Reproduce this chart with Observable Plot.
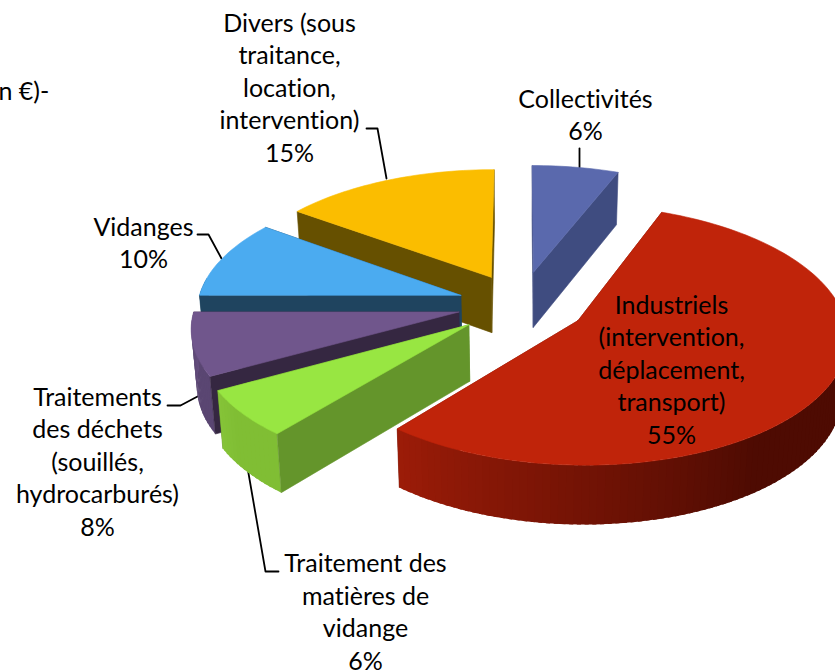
<!DOCTYPE html>
<html><head><meta charset="utf-8">
<style>html,body{margin:0;padding:0;background:#fff;overflow:hidden}svg{display:block}text{font-variant-ligatures:none}</style>
<script src="https://cdn.jsdelivr.net/npm/d3@7"></script>
<script src="https://cdn.jsdelivr.net/npm/@observablehq/plot@0.6"></script>
</head><body><div id="chart"></div>
<script>
// Slices in pie order, clockwise from 12 o'clock
const names = ["Collectivités","Industriels","Traitement des matières de vidange","Traitements des déchets","Vidanges","Divers"];
const shares = [6,55,6,8,10,15];
const topColors = ["#5a69ad","#c0240a","#98e642","#70568c","#4babf0","#fbbd00"];
const faceColors = ["#3f4c80","#7a1505","#64952b","#352741","#1f445f","#665000"];
const rimNear = ["#3f4c80","#4e0b02","#80be34","#5a4672","#1f445f","#665000"];
const rimFar = ["#3f4c80","#9c1c08","#86c438","#644e7e","#1f445f","#665000"];
const explodes = [0.27,0.25,0.25,0.24,0.24,0.25];
const paintOrder = [0,5,4,3,2,1];

// Labels
const labelTexts = [
  "n €)-",
  "Divers (sous\ntraitance,\nlocation,\nintervention)\n15%",
  "Collectivités\n6%",
  "Vidanges\n10%",
  "Traitements\ndes déchets\n(souillés,\nhydrocarburés)\n8%",
  "Traitement des\nmatières de\nvidange\n6%",
  "Industriels\n(intervention,\ndéplacement,\ntransport)\n55%"
];
const labelX = [-2,289,585,143,97,365,671];
const labelY = [89,86,113,241,460,610,368];
const labelAnchor = ["start","middle","middle","middle","middle","middle","middle"];

// Leader lines
const leaders = [
  [[366,128],[377,128],[386,178]],
  [[579,148],[579,167]],
  [[197,234],[208,234],[221,258]],
  [[167,405],[180,405],[197,396]],
  [[278,571],[265,571],[247,467]]
];

// Perspective view of the pie
const view = {cx:520, cy:304, a:263.5, b:125, p:0.109, depth:56, depthSlope:3, converge:0.017};
function project(u,v,down){
  const w = 1 - view.p*v;
  let x = view.cx + view.a*u/w, y = view.cy + view.b*v/w;
  if (down){ x += (view.cx-x)*view.converge; y += view.depth + view.depthSlope*v; }
  return [x,y];
}
const rad = d => d*Math.PI/180;
const polygons = [];
function addPolygon(id,pts,color,edge){polygons.push({id,pts,color,edge});}
const total = d3.sum(shares);
const cumulative = d3.cumsum(shares);

paintOrder.forEach(i=>{
  const t1 = (cumulative[i]-shares[i])/total*360, t2 = cumulative[i]/total*360;
  const mid = (t1+t2)/2;
  const ox = Math.sin(rad(mid))*explodes[i], oy = -Math.cos(rad(mid))*explodes[i];
  const pt = (t,r,down)=>project(ox+r*Math.sin(rad(t)), oy-r*Math.cos(rad(t)), down);
  const faceStart = {pts:[pt(t1,0),pt(t1,1),pt(t1,1,true),pt(t1,0,true)],facing:-Math.sin(rad(t1))>0};
  const faceEnd = {pts:[pt(t2,0),pt(t2,1),pt(t2,1,true),pt(t2,0,true)],facing:Math.sin(rad(t2))>0};
  const faces = [faceStart,faceEnd];
  faces.filter(f=>!f.facing).forEach((f,k)=>addPolygon(`${i}-back-${k}`,f.pts,faceColors[i],faceColors[i]));
  // rim, in short overlapping segments so that the shade runs smoothly along it
  const n = Math.max(2,Math.ceil((t2-t1)/1.5));
  const shade = d3.scaleLinear().domain([0.62,1]).range([rimNear[i],rimFar[i]]).clamp(true);
  for(let k=0;k<n;k++){
    const a=t1+(t2-t1)*k/n, b=Math.min(t2,t1+(t2-t1)*(k+1)/n+0.8);
    if(Math.cos(rad((a+b)/2))<0.15)
      addPolygon(`${i}-rim-${k}`,[pt(a,1),pt(b,1),pt(b,1,true),pt(a,1,true)],shade((k+.5)/n),"none");
  }
  faces.filter(f=>f.facing).forEach((f,k)=>addPolygon(`${i}-face-${k}`,f.pts,faceColors[i],faceColors[i]));
  // top surface
  const topPts=[pt(t1,0)];
  for(let k=0;k<=n;k++) topPts.push(pt(t1+(t2-t1)*k/n,1));
  addPolygon(`${i}-top`,topPts,topColors[i],topColors[i]);
});

const rows = polygons.flatMap(p=>[...p.pts,p.pts[0]].map(([x,y])=>({x,y,id:p.id,color:p.color,edge:p.edge})));
const leaderRows = leaders.flatMap((l,id)=>l.map(([x,y])=>({x,y,id})));
const labels = labelTexts.map((text,i)=>({text,x:labelX[i],y:labelY[i],anchor:labelAnchor[i]}));

const chart = Plot.plot({
  width:835,height:671,margin:0,
  x:{domain:[0,835],range:[0,835],axis:null},
  y:{domain:[0,671],range:[0,671],axis:null},
  color:{type:"identity"},
  style:{background:"#fff",fontFamily:"Lato, Carlito, sans-serif"},
  marks:[
    Plot.line(leaderRows,{x:"x",y:"y",z:"id",stroke:"#000",strokeWidth:1.8,curve:"linear"}),
    Plot.line(rows,{x:"x",y:"y",z:"id",fill:"color",stroke:"edge",strokeWidth:0.6,curve:"linear"}),
    Plot.text(labels.filter(d=>d.anchor==="start"),{x:"x",y:"y",text:"text",textAnchor:"start",fontSize:25,lineHeight:1.3,fill:"#000"}),
    Plot.text(labels.filter(d=>d.anchor==="middle"),{x:"x",y:"y",text:"text",textAnchor:"middle",fontSize:25,lineHeight:1.3,fill:"#000"})
  ]
});
document.getElementById("chart").append(chart);
</script></body></html>
